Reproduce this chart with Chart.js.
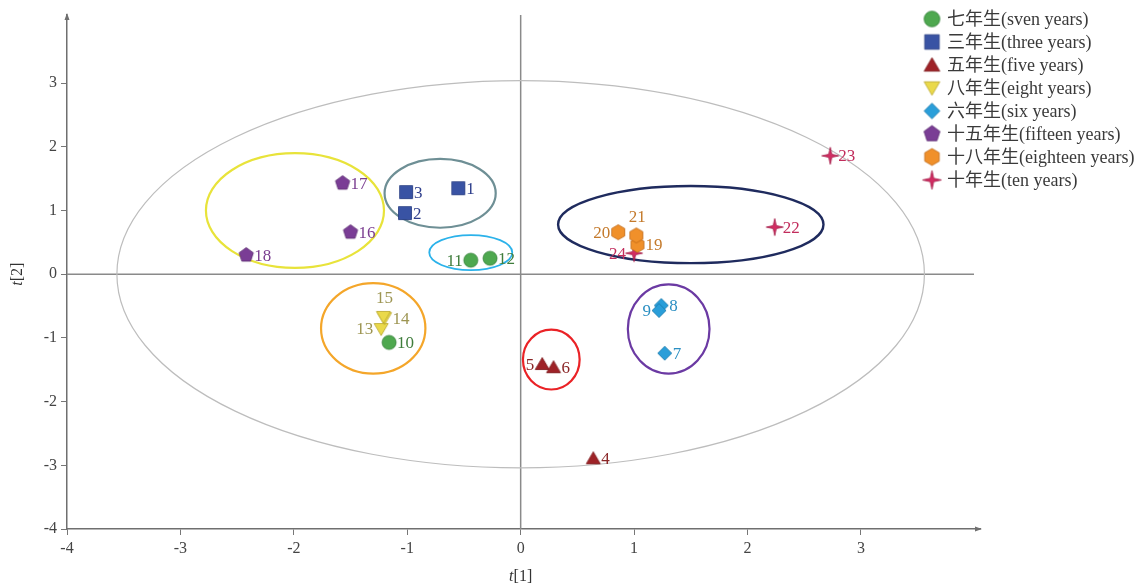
<!DOCTYPE html>
<html>
<head>
<meta charset="utf-8">
<script src="https://cdn.jsdelivr.net/npm/chart.js@4/dist/chart.umd.min.js"></script>
<style>
  html, body { margin: 0; padding: 0; background: #ffffff; }
  #wrap { width: 1141px; height: 587px; position: relative; }
</style>
</head>
<body>
<div id="wrap"><canvas id="pca"></canvas></div>
<script>
// Score plot of samples on the first two components t[1] / t[2]
const groupNames = [
  '七年生(sven years)', '三年生(three years)', '五年生(five years)', '八年生(eight years)',
  '六年生(six years)', '十五年生(fifteen years)', '十八年生(eighteen years)', '十年生(ten years)'
];
const sampleNo = [1, 2, 3, 4, 5, 6, 7, 8, 9, 10, 11, 12, 13, 14, 15, 16, 17, 18, 19, 20, 21, 22, 23, 24];
const t1 = [-0.55, -1.02, -1.01, 0.64, 0.19, 0.29, 1.27, 1.24, 1.22, -1.16, -0.44, -0.27,
            -1.23, -1.20, -1.21, -1.50, -1.57, -2.42, 1.03, 0.86, 1.02, 2.24, 2.73, 1.00];
const t2 = [1.35, 0.96, 1.29, -2.89, -1.41, -1.46, -1.24, -0.49, -0.57, -1.07, 0.22, 0.25,
            -0.86, -0.69, -0.67, 0.66, 1.43, 0.30, 0.46, 0.66, 0.61, 0.74, 1.86, 0.33];
// index into groupNames for each sample
const sampleGroup = [1, 1, 1, 2, 2, 2, 4, 4, 4, 0, 0, 0, 3, 3, 3, 5, 5, 5, 6, 6, 6, 7, 7, 7];

// cluster outlines: centre (t1, t2) and semi-axes in score units
const ringCx = [0, -1.99, -0.71, -0.44, -1.30, 0.27, 1.305, 1.50];
const ringCy = [0, 1.00, 1.27, 0.34, -0.85, -1.34, -0.86, 0.78];
const ringRx = [3.56, 0.785, 0.49, 0.366, 0.46, 0.25, 0.36, 1.17];
const ringRy = [3.04, 0.90, 0.54, 0.275, 0.71, 0.47, 0.70, 0.605];
const ringColor = ['#bdbdbd', '#e8e33a', '#6e8f95', '#2bb2ea', '#f4a62a', '#ea2226', '#6b3aa3', '#1f2b5e'];
const ringWidth = [1.2, 2.2, 2.2, 1.8, 2.2, 2.2, 2.2, 2.4];

const xTicks = [-4, -3, -2, -1, 0, 1, 2, 3];
const yTicks = [-4, -3, -2, -1, 0, 1, 2, 3];

// marker look per group
const markerShape = ['circle', 'square', 'triUp', 'triDown', 'diamond', 'pentagon', 'hexagon', 'star'];
const markerFill = ['#4ea84f', '#3953a4', '#9e2227', '#ead94a', '#2a9ed9', '#7a3d95', '#f0902a', '#d22c62'];
const markerEdge = ['#2f7d33', '#253a80', '#7a1518', '#b7a62a', '#1b78ab', '#5a2a70', '#c06a18', '#a31c48'];
const labelColor = ['#3f7d3c', '#2f3f8c', '#8a2526', '#9d9552', '#2b8fc2', '#7a3d90', '#c47a2c', '#c22c5c'];

// where each sample number sits relative to its marker
const leftLabels = [5, 9, 11, 13, 20, 24];
const aboveLabels = [15, 21];

function makeMarker(shape, fill, edge, k) {
  const s = Math.ceil(20 * k);
  const c = document.createElement('canvas');
  c.width = s; c.height = s;
  const g = c.getContext('2d');
  const m = s / 2;
  g.fillStyle = fill; g.strokeStyle = edge; g.lineWidth = 0.8;
  g.beginPath();
  const poly = (n, r, rot) => {
    for (let i = 0; i < n; i++) {
      const a = rot + i * 2 * Math.PI / n;
      const px = m + r * Math.cos(a), py = m + r * Math.sin(a);
      if (i === 0) g.moveTo(px, py); else g.lineTo(px, py);
    }
    g.closePath();
  };
  if (shape === 'circle') g.arc(m, m, 7 * k, 0, Math.PI * 2);
  else if (shape === 'square') g.rect(m - 6.5 * k, m - 6.5 * k, 13 * k, 13 * k);
  else if (shape === 'triUp') { g.moveTo(m, m - 6.5 * k); g.lineTo(m + 7 * k, m + 5.5 * k); g.lineTo(m - 7 * k, m + 5.5 * k); g.closePath(); }
  else if (shape === 'triDown') { g.moveTo(m - 7 * k, m - 5.5 * k); g.lineTo(m + 7 * k, m - 5.5 * k); g.lineTo(m, m + 6.5 * k); g.closePath(); }
  else if (shape === 'diamond') poly(4, 7 * k, -Math.PI / 2);
  else if (shape === 'pentagon') poly(5, 7.5 * k, -Math.PI / 2);
  else if (shape === 'hexagon') poly(6, 7.5 * k, -Math.PI / 2);
  else if (shape === 'star') {
    const R = 8.5 * k, r = 2.2 * k;
    for (let i = 0; i < 8; i++) {
      const a = -Math.PI / 2 + i * Math.PI / 4;
      const rr = i % 2 === 0 ? R : r;
      const px = m + rr * Math.cos(a), py = m + rr * Math.sin(a);
      if (i === 0) g.moveTo(px, py); else g.lineTo(px, py);
    }
    g.closePath();
  }
  g.fill(); g.stroke();
  return c;
}

const markers = markerShape.map((sh, i) => makeMarker(sh, markerFill[i], markerEdge[i], 1));
const legendMarkers = markerShape.map((sh, i) => makeMarker(sh, markerFill[i], markerEdge[i], 1.12));

const datasets = groupNames.map((name, gi) => ({
  label: name,
  data: sampleNo.map((n, i) => ({ x: t1[i], y: t2[i], n: n, g: sampleGroup[i] }))
                .filter(p => p.g === gi),
  pointStyle: markers[gi],
  backgroundColor: markerFill[gi],
  borderColor: markerEdge[gi],
  pointRadius: 7,
  pointHoverRadius: 7
}));

const SERIF = "'Liberation Serif', 'Times New Roman', 'Noto Sans CJK SC', serif";

const decorPlugin = {
  id: 'decor',
  beforeDatasetsDraw(chart) {
    const { ctx, chartArea: a, scales: { x, y } } = chart;
    ctx.save();
    // zero lines
    ctx.strokeStyle = '#8a8a8a';
    ctx.lineWidth = 1.5;
    ctx.beginPath();
    ctx.moveTo(x.getPixelForValue(0), a.top);
    ctx.lineTo(x.getPixelForValue(0), a.bottom);
    ctx.moveTo(a.left, y.getPixelForValue(0));
    ctx.lineTo(a.right - 6, y.getPixelForValue(0));
    ctx.stroke();
    // cluster outlines
    ringCx.forEach((cx, i) => {
      const px = x.getPixelForValue(cx), py = y.getPixelForValue(ringCy[i]);
      const rx = Math.abs(x.getPixelForValue(cx + ringRx[i]) - px);
      const ry = Math.abs(y.getPixelForValue(ringCy[i] + ringRy[i]) - py);
      ctx.beginPath();
      ctx.ellipse(px, py, rx, ry, 0, 0, Math.PI * 2);
      ctx.strokeStyle = ringColor[i];
      ctx.lineWidth = ringWidth[i];
      ctx.stroke();
    });
    ctx.restore();
  },
  afterDatasetsDraw(chart) {
    const { ctx, chartArea: a } = chart;
    ctx.save();
    // sample numbers
    ctx.font = '17px ' + SERIF;
    chart.data.datasets.forEach((ds, di) => {
      const meta = chart.getDatasetMeta(di);
      meta.data.forEach((el, j) => {
        const n = ds.data[j].n;
        ctx.fillStyle = labelColor[di];
        ctx.textBaseline = 'middle';
        if (leftLabels.includes(n)) {
          ctx.textAlign = 'right';
          ctx.fillText(String(n), el.x - 8, el.y + 1);
        } else if (aboveLabels.includes(n)) {
          ctx.textAlign = 'center';
          ctx.fillText(String(n), el.x + 1, el.y - 18);
        } else {
          ctx.textAlign = 'left';
          ctx.fillText(String(n), el.x + 8, el.y + 1);
        }
      });
    });
    // axis arrowheads
    ctx.fillStyle = '#6f6f6f';
    ctx.beginPath();
    ctx.moveTo(a.right + 2, a.bottom);
    ctx.lineTo(a.right - 5, a.bottom - 2.5);
    ctx.lineTo(a.right - 5, a.bottom + 2.5);
    ctx.closePath();
    ctx.fill();
    ctx.beginPath();
    ctx.moveTo(a.left, a.top - 2);
    ctx.lineTo(a.left - 2.5, a.top + 5);
    ctx.lineTo(a.left + 2.5, a.top + 5);
    ctx.closePath();
    ctx.fill();
    // axis titles with italic t
    const title = (cx, cy, rot, sub) => {
      ctx.save();
      ctx.translate(cx, cy);
      ctx.rotate(rot);
      ctx.fillStyle = '#333';
      ctx.textBaseline = 'middle';
      ctx.font = 'italic 16px ' + SERIF;
      const w1 = ctx.measureText('t').width;
      ctx.font = '16px ' + SERIF;
      const w2 = ctx.measureText(sub).width;
      const x0 = -(w1 + w2) / 2;
      ctx.textAlign = 'left';
      ctx.font = 'italic 16px ' + SERIF;
      ctx.fillText('t', x0, 0);
      ctx.font = '16px ' + SERIF;
      ctx.fillText(sub, x0 + w1, 0);
      ctx.restore();
    };
    title(chart.scales.x.getPixelForValue(0), 577, 0, '[1]');
    title(18, chart.scales.y.getPixelForValue(0), -Math.PI / 2, '[2]');
    // legend
    chart.data.datasets.forEach((ds, i) => {
      const ly = 19 + i * 23;
      const img = legendMarkers[i];
      ctx.drawImage(img, 932 - img.width / 2, ly - img.height / 2);
      ctx.fillStyle = '#3a3a3a';
      ctx.font = '18px ' + SERIF;
      ctx.textAlign = 'left';
      ctx.textBaseline = 'middle';
      ctx.fillText(ds.label, 947, ly + 1);
    });
    ctx.restore();
  }
};

const axisCommon = (ticks) => ({
  type: 'linear',
  min: -4,
  grid: { drawOnChartArea: false, drawTicks: true, tickLength: 6, color: '#777', lineWidth: 1 },
  border: { display: true, color: '#6f6f6f', width: 1.5 },
  ticks: { stepSize: 1, color: '#444', font: { family: SERIF, size: 16 }, padding: 4 },
  afterBuildTicks(scale) { scale.ticks = ticks.map(v => ({ value: v })); }
});

new Chart(document.getElementById('pca'), {
  type: 'scatter',
  data: { datasets },
  options: {
    responsive: true,
    maintainAspectRatio: false,
    animation: false,
    layout: { padding: { left: 0, top: 15, right: 161, bottom: 0 } },
    plugins: { legend: { display: false }, tooltip: { enabled: false } },
    scales: {
      x: Object.assign(axisCommon(xTicks), {
        max: 4.05,
        afterFit(scale) { scale.height = 58; }
      }),
      y: Object.assign(axisCommon(yTicks), {
        max: 4.07,
        afterFit(scale) { scale.width = 67; }
      })
    }
  },
  plugins: [decorPlugin]
});
</script>
</body>
</html>
